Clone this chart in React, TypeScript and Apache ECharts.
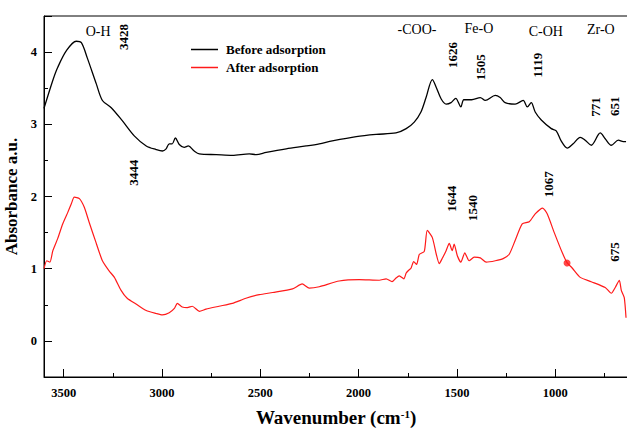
import React, { useEffect, useRef } from "react";
import * as echarts from "echarts";

// Before adsorption (black)
const beforeWn = [3600, 3555, 3530, 3486, 3436, 3410, 3380, 3334, 3303, 3258, 3202, 3141, 3080, 3030, 2998, 2979, 2963, 2948, 2932, 2912, 2887, 2866, 2836, 2810, 2724, 2642, 2556, 2521, 2470, 2368, 2267, 2200, 2134, 2012, 1911, 1810, 1758, 1717, 1683, 1657, 1625, 1605, 1580, 1555, 1530, 1506, 1480, 1465, 1425, 1381, 1356, 1305, 1280, 1255, 1204, 1163, 1142, 1122, 1102, 1071, 1020, 995, 970, 939, 909, 873, 848, 817, 771, 746, 715, 679, 654, 640];
const beforeAbs = [3.22, 3.61, 3.79, 4.02, 4.15, 4.13, 3.92, 3.56, 3.33, 3.23, 3.05, 2.84, 2.70, 2.65, 2.63, 2.66, 2.73, 2.73, 2.81, 2.72, 2.68, 2.70, 2.63, 2.59, 2.58, 2.57, 2.59, 2.58, 2.61, 2.66, 2.70, 2.73, 2.77, 2.83, 2.86, 2.88, 2.94, 3.03, 3.17, 3.37, 3.62, 3.51, 3.35, 3.28, 3.30, 3.36, 3.24, 3.34, 3.34, 3.37, 3.33, 3.40, 3.37, 3.30, 3.28, 3.33, 3.24, 3.30, 3.17, 3.06, 2.94, 2.91, 2.77, 2.67, 2.73, 2.82, 2.78, 2.71, 2.88, 2.80, 2.71, 2.78, 2.76, 2.76];

// After adsorption (red)
const afterWn = [3600, 3586, 3570, 3555, 3530, 3505, 3479, 3461, 3446, 3420, 3395, 3370, 3334, 3303, 3269, 3242, 3208, 3177, 3132, 3080, 3030, 2998, 2963, 2937, 2922, 2897, 2871, 2846, 2810, 2776, 2710, 2642, 2573, 2505, 2437, 2336, 2287, 2251, 2200, 2099, 1997, 1895, 1860, 1830, 1810, 1793, 1770, 1758, 1745, 1733, 1720, 1705, 1691, 1666, 1651, 1625, 1605, 1590, 1575, 1555, 1539, 1524, 1514, 1498, 1480, 1460, 1438, 1412, 1381, 1351, 1305, 1265, 1234, 1204, 1168, 1132, 1102, 1064, 1041, 1005, 964, 939, 914, 873, 817, 746, 715, 695, 674, 664, 649, 640];
const afterAbs = [1.00, 1.11, 1.09, 1.25, 1.42, 1.62, 1.78, 1.90, 1.99, 1.97, 1.85, 1.64, 1.35, 1.11, 0.97, 0.88, 0.70, 0.59, 0.51, 0.42, 0.38, 0.36, 0.39, 0.45, 0.52, 0.47, 0.46, 0.48, 0.41, 0.44, 0.48, 0.52, 0.59, 0.64, 0.67, 0.72, 0.79, 0.73, 0.75, 0.83, 0.85, 0.84, 0.86, 0.82, 0.87, 0.90, 0.86, 0.94, 0.98, 1.01, 1.10, 1.06, 1.20, 1.24, 1.53, 1.43, 1.20, 1.07, 1.14, 1.25, 1.35, 1.25, 1.34, 1.18, 1.09, 1.22, 1.11, 1.16, 1.15, 1.09, 1.11, 1.14, 1.20, 1.39, 1.62, 1.65, 1.76, 1.84, 1.76, 1.50, 1.22, 1.08, 1.01, 0.88, 0.82, 0.74, 0.66, 0.74, 0.84, 0.70, 0.60, 0.32];

const markedPoint = [940, 1.08];

const seriesNames = ["Before adsorption", "After adsorption"];

// annotation texts anchored in data coordinates [wavenumber, absorbance]
const annotationText = ["O-H", "3428", "3444", "-COO-", "Fe-O", "C-OH", "Zr-O", "1626", "1505", "1119", "771", "651", "1067", "1644", "1540", "675"];
const annotationWn = [3325, 3198, 3147, 1703, 1388, 1048, 768, 1525, 1378, 1088, 793, 697, 1032, 1530, 1419, 697];
const annotationAbs = [4.29, 4.21, 2.33, 4.31, 4.33, 4.29, 4.31, 3.96, 3.79, 3.82, 3.24, 3.25, 2.17, 1.97, 1.84, 1.23];
const annotationRotated = [false, true, true, false, false, false, false, true, true, true, true, true, true, true, true, true];

const FONT = '"Liberation Serif", "Times New Roman", serif';

const zip = (xs: number[], ys: number[]) => xs.map((x, i) => [x, ys[i]]);

export default function App() {
  const ref = useRef<HTMLDivElement>(null);
  useEffect(() => {
    if (!ref.current) return;
    const chart = echarts.init(ref.current, undefined, { renderer: "svg" });
    chart.setOption({
      animation: false,
      backgroundColor: "#fff",
      textStyle: { fontFamily: FONT },
      grid: {
        left: 44,
        right: -1,
        top: 16,
        bottom: 51,
        show: true,
        borderColor: "#000",
        borderWidth: 1,
        containLabel: false,
        outerBoundsMode: "none",
      },
      legend: {
        data: seriesNames,
        orient: "vertical",
        left: 186,
        top: 38,
        icon: "rect",
        itemWidth: 27,
        itemHeight: 1.5,
        itemGap: 5,
        textStyle: { fontFamily: FONT, fontWeight: "bold", fontSize: 13, color: "#000", padding: [0, 0, 0, 3] },
      },
      xAxis: {
        type: "value",
        inverse: true,
        min: 630,
        max: 3600,
        splitNumber: 6,
        name: "{a|Wavenumber (cm}{s|-1}{a|)}",
        nameLocation: "middle",
        nameGap: 31,
        nameTextStyle: {
          rich: {
            a: { fontFamily: FONT, fontWeight: "bold", fontSize: 19, color: "#000", lineHeight: 19 },
            s: { fontFamily: FONT, fontWeight: "bold", fontSize: 11, color: "#000", verticalAlign: "top", lineHeight: 19, padding: [0, 0, 7, 0] },
          },
        },
        axisLine: { onZero: false, lineStyle: { color: "#000", width: 1 } },
        axisTick: { inside: true, length: 8, lineStyle: { color: "#000" } },
        minorTick: { show: true, splitNumber: 2, length: 4, lineStyle: { color: "#000" } },
        splitLine: { show: false },
        axisLabel: {
          showMinLabel: false,
          showMaxLabel: false,
          color: "#000",
          fontFamily: FONT,
          fontWeight: "bold",
          fontSize: 12.5,
          margin: 9,
          formatter: (v: number) => String(v),
        },
      },
      yAxis: {
        type: "value",
        min: -0.5,
        max: 4.5,
        splitNumber: 5,
        name: "Absorbance a.u.",
        nameLocation: "middle",
        nameGap: 19,
        nameTextStyle: { fontFamily: FONT, fontWeight: "bold", fontSize: 17, color: "#000" },
        axisLine: { show: true, onZero: false, lineStyle: { color: "#000", width: 1 } },
        axisTick: { inside: true, length: 8, lineStyle: { color: "#000" } },
        minorTick: { show: true, splitNumber: 2, length: 4, lineStyle: { color: "#000" } },
        splitLine: { show: false },
        axisLabel: {
          showMinLabel: false,
          showMaxLabel: false,
          color: "#000",
          fontFamily: FONT,
          fontWeight: "bold",
          fontSize: 12.5,
          margin: 7,
          formatter: (v: number) => String(v),
        },
      },
      series: [
        {
          name: seriesNames[0],
          type: "line",
          data: zip(beforeWn, beforeAbs),
          symbol: "none",
          smooth: 0.3,
          lineStyle: { color: "#000", width: 1.3 },
          itemStyle: { color: "#000" },
        },
        {
          name: seriesNames[1],
          type: "line",
          data: zip(afterWn, afterAbs),
          symbol: "none",
          smooth: 0.2,
          lineStyle: { color: "#ff1a1a", width: 1.2 },
          itemStyle: { color: "#ff1a1a" },
        },
        {
          name: "marker",
          type: "scatter",
          data: [markedPoint],
          symbolSize: 7,
          itemStyle: { color: "#ff1a1a" },
          z: 5,
        },
      ],
    });

    const graphic = annotationText.map((t, i) => {
      const p = chart.convertToPixel({ gridIndex: 0 }, [annotationWn[i], annotationAbs[i]]) as number[];
      const rot = annotationRotated[i];
      return {
        type: "text",
        x: p[0],
        y: p[1],
        rotation: rot ? Math.PI / 2 : 0,
        z: 10,
        style: {
          text: t,
          fill: "#000",
          font: rot ? `bold 13px ${FONT}` : `14px ${FONT}`,
          align: "center",
          verticalAlign: "middle",
        },
      };
    });
    chart.setOption({ graphic });

    return () => chart.dispose();
  }, []);
  return <div ref={ref} style={{ position: "fixed", left: 0, top: 0, width: 627, height: 428 }} />;
}
